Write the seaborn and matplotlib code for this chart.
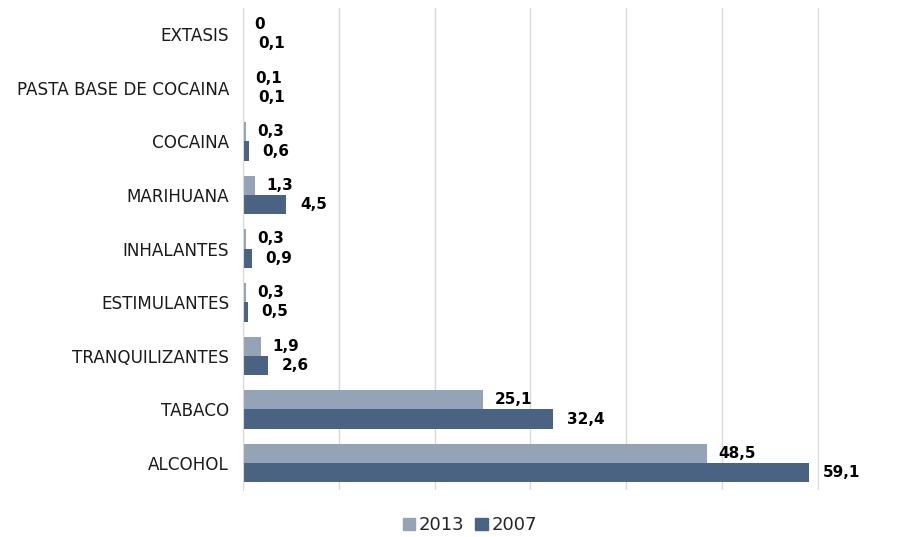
import matplotlib
matplotlib.use("Agg")
import matplotlib.pyplot as plt
import pandas as pd
import seaborn as sns

categories = ["EXTASIS", "PASTA BASE DE COCAINA", "COCAINA", "MARIHUANA",
              "INHALANTES", "ESTIMULANTES", "TRANQUILIZANTES", "TABACO", "ALCOHOL"]
values_2013 = [0, 0.1, 0.3, 1.3, 0.3, 0.3, 1.9, 25.1, 48.5]
values_2007 = [0.1, 0.1, 0.6, 4.5, 0.9, 0.5, 2.6, 32.4, 59.1]
years = ["2013", "2007"]

df = pd.DataFrame({
    "sustancia": categories * 2,
    "valor": values_2013 + values_2007,
    "anio": [years[0]] * len(categories) + [years[1]] * len(categories),
})

sns.set_style("white")
plt.rcParams["font.family"] = ["DejaVu Sans"]

fig = plt.figure(figsize=(9, 5.37), dpi=100)
ax = fig.add_axes([0.27, 0.088, 0.640, 0.898])

palette = {"2013": "#95A3B6", "2007": "#4A6383"}
sns.barplot(data=df, y="sustancia", x="valor", hue="anio", order=categories,
            hue_order=years, palette=palette, orient="h", width=0.72,
            saturation=1, linewidth=0, ax=ax, legend=True)

for i, cont in enumerate(ax.containers):
    labels = [f"{v:g}".replace(".", ",") for v in cont.datavalues]
    ax.bar_label(cont, labels=labels, padding=8 if i == 0 else 10,
                 fontsize=11, fontweight="bold", color="black", clip_on=False)

ax.set_xlim(0, 60.15)
ax.set_ylim(len(categories) - 0.5, -0.5)
ax.set_xticks(range(0, 61, 10))
ax.set_xticklabels([])
ax.xaxis.grid(True, color="#D9D9D9", linewidth=1)
ax.set_axisbelow(True)
ax.tick_params(axis="x", length=6, color="#D9D9D9", width=1)
ax.tick_params(axis="y", length=0, labelsize=12.1, colors="#1A1A1A", pad=10)
for side in ["top", "right", "bottom"]:
    ax.spines[side].set_visible(False)
ax.spines["left"].set_color("#D9D9D9")
ax.set_xlabel("")
ax.set_ylabel("")

ax.legend_.remove()
handles = [plt.Rectangle((0, 0), 1, 1, color=palette[y]) for y in years]
fig.legend(handles, years, loc="center", bbox_to_anchor=(0.522, 0.022),
           ncol=2, frameon=False, fontsize=13, handlelength=0.7,
           handleheight=0.7, handletextpad=0.2, columnspacing=0.6)

fig.savefig("out.png", dpi=100)
